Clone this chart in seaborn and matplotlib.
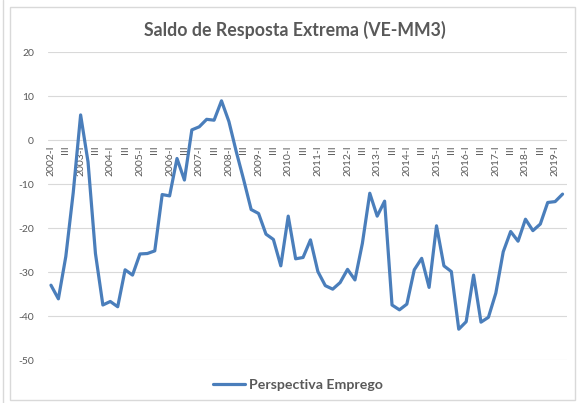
import matplotlib
matplotlib.use("Agg")
import matplotlib.pyplot as plt
import seaborn as sns
import pandas as pd
from matplotlib.patches import Rectangle
from matplotlib.lines import Line2D

years = list(range(2002, 2020))
quarter_names = ["I", "II", "III", "IV"]
quarters = [f"{y}-{q}" for y in years for q in quarter_names][:70]

values = [
    -33.0, -36.1, -26.5, -12.0,
    5.7, -5.0, -25.8, -37.5,
    -36.7, -37.9, -29.5, -30.7,
    -25.9, -25.8, -25.2, -12.4,
    -12.7, -4.2, -9.1, 2.3,
    3.0, 4.7, 4.5, 8.9,
    4.2, -2.7, -9.1, -15.8,
    -16.7, -21.4, -22.6, -28.6,
    -17.3, -27.0, -26.7, -22.7,
    -29.9, -33.1, -33.9, -32.4,
    -29.4, -31.8, -23.5, -12.1,
    -17.3, -13.9, -37.5, -38.6,
    -37.3, -29.5, -26.9, -33.5,
    -19.5, -28.6, -29.9, -43.0,
    -41.3, -30.7, -41.4, -40.3,
    -34.8, -25.4, -20.8, -23.0,
    -18.0, -20.6, -19.1, -14.2,
    -14.0, -12.3,
]

tick_labels = [q if q.endswith("-I") else q.split("-")[1] for q in quarters]

title = "Saldo de Resposta Extrema (VE-MM3)"
series_name = "Perspectiva Emprego"
yticks = [20, 10, 0, -10, -20, -30, -40, -50]

sns.set_theme(style="white")
plt.rcParams["font.family"] = ["Lato", "DejaVu Sans"]

df = pd.DataFrame({"idx": range(len(values)), "val": values})

fig = plt.figure(figsize=(5.77, 4.03), dpi=100)
ax = fig.add_axes([48 / 577, 1 - 360 / 403, (567 - 48) / 577, (360 - 52) / 403])

line_color = "#4A7EBB"
sns.lineplot(data=df, x="idx", y="val", ax=ax, color=line_color, linewidth=2.3, legend=False)

ax.set_xlim(-0.4, 69.6)
ax.set_ylim(-50, 20)
ax.set_yticks(yticks)
ax.set_yticklabels([str(v) for v in yticks], fontsize=7.5, color="#595959")
ax.grid(axis="y", color="#D9D9D9", linewidth=0.8)
ax.grid(axis="x", visible=False)
for s in ["top", "right", "left"]:
    ax.spines[s].set_visible(False)
ax.spines["bottom"].set_position(("data", 0))
ax.spines["bottom"].set_visible(False)
idxs = list(range(0, len(quarters), 2))
ax.set_xticks(idxs)
ax.set_xticklabels([tick_labels[i] for i in idxs], rotation=90, fontsize=7.5, color="#595959", va="top")
ax.tick_params(axis="both", length=0, pad=4)
ax.tick_params(axis="y", pad=10)
ax.set_xlabel("")
ax.set_ylabel("")
ax.set_axisbelow(True)

fig.text(295 / 577, 1 - 30 / 403, title, ha="center", va="center", fontsize=12.8,
         fontweight="bold", color="#595959")

fig.patches.append(Rectangle((10 / 577, 1 - 400 / 403), 565 / 577, 393 / 403,
                             transform=fig.transFigure, fill=False, edgecolor="#D9D9D9", linewidth=1))
fig.lines.append(Line2D([3 / 577, 3 / 577], [0, 1], transform=fig.transFigure, color="#D9D9D9", linewidth=1))

handle = Line2D([], [], color=line_color, linewidth=2.3)
leg = fig.legend([handle], [series_name], loc="center", bbox_to_anchor=(298 / 577, 1 - 385 / 403),
                 frameon=False, handlelength=2.2, handletextpad=0.3,
                 prop={"weight": "bold", "size": 10.2})
for t in leg.get_texts():
    t.set_color("#595959")

fig.savefig("out.png", dpi=100)
